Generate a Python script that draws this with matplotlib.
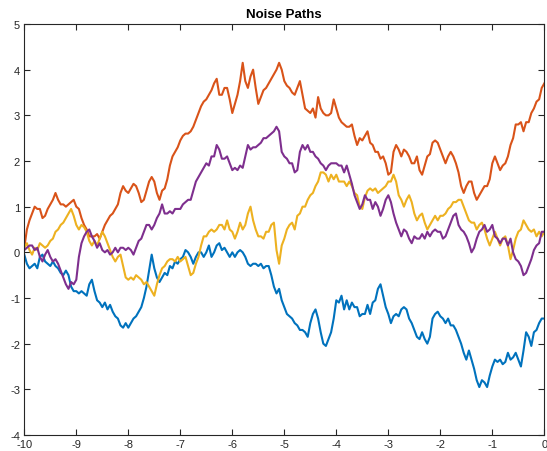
import numpy as np
import matplotlib
matplotlib.use("Agg")
import matplotlib.pyplot as plt

plt.rcParams['font.family'] = ['Liberation Sans', 'DejaVu Sans']
plt.rcParams['axes.unicode_minus'] = False

# sample times, 0.05 apart
t = np.linspace(-10, 0, 201)

path_blue = [
    -0.05, -0.25, -0.35, -0.3, -0.25, -0.35, -0.1, -0.05, -0.2, -0.25, -0.3, -0.2, -0.3, -0.35, -0.45, -0.5, -0.4, -0.5, -0.75, -0.85,
    -0.85, -0.9, -0.85, -0.9, -0.95, -0.7, -0.6, -0.85, -1.05, -1.1, -1.2, -1.1, -1.25, -1.15, -1.3, -1.4, -1.45, -1.6, -1.65, -1.55,
    -1.65, -1.55, -1.45, -1.4, -1.3, -1.2, -1.0, -0.75, -0.4, -0.05, -0.35, -0.55, -0.65, -0.55, -0.45, -0.5, -0.3, -0.35, -0.2, -0.25,
    -0.15, -0.1, 0.05, 0.0, -0.1, -0.25, -0.1, 0.0, 0.0, -0.1, 0.0, 0.15, -0.1, 0.0, 0.15, 0.2, 0.05, 0.1, 0.0, -0.1,
    0.0, -0.1, 0.0, 0.05, 0.0, -0.1, -0.25, -0.3, -0.25, -0.25, -0.3, -0.25, -0.35, -0.3, -0.3, -0.5, -0.75, -0.9, -0.8, -1.05,
    -1.2, -1.35, -1.4, -1.45, -1.55, -1.6, -1.7, -1.7, -1.75, -1.85, -1.55, -1.35, -1.25, -1.45, -1.75, -2.0, -2.05, -1.9, -1.75, -1.45,
    -1.05, -1.1, -0.95, -1.25, -1.05, -1.25, -1.1, -1.2, -1.2, -1.4, -1.35, -1.35, -1.15, -1.35, -1.1, -1.05, -0.8, -0.7, -0.95, -1.2,
    -1.35, -1.55, -1.4, -1.35, -1.4, -1.25, -1.2, -1.25, -1.45, -1.55, -1.7, -1.85, -1.9, -1.75, -1.9, -2.0, -1.85, -1.45, -1.35, -1.3,
    -1.4, -1.45, -1.55, -1.45, -1.6, -1.6, -1.7, -1.85, -2.0, -2.2, -2.35, -2.15, -2.35, -2.55, -2.8, -2.95, -2.8, -2.85, -2.95, -2.7,
    -2.5, -2.35, -2.4, -2.35, -2.45, -2.4, -2.2, -2.35, -2.3, -2.2, -2.35, -2.5, -2.15, -1.75, -1.85, -2.05, -1.75, -1.7, -1.55, -1.45,
    -1.45,
]

path_orange = [
    0.1, 0.5, 0.7, 0.85, 1.0, 0.95, 0.95, 0.75, 0.8, 0.95, 1.05, 1.15, 1.3, 1.15, 1.05, 1.05, 1.0, 1.05, 1.1, 1.15,
    1.0, 0.95, 0.75, 0.6, 0.5, 0.35, 0.35, 0.35, 0.4, 0.3, 0.45, 0.6, 0.7, 0.8, 0.85, 0.95, 1.05, 1.3, 1.45, 1.35,
    1.3, 1.4, 1.5, 1.45, 1.3, 1.1, 1.15, 1.35, 1.55, 1.65, 1.55, 1.3, 1.15, 1.35, 1.4, 1.6, 1.9, 2.1, 2.2, 2.3,
    2.45, 2.55, 2.6, 2.6, 2.65, 2.75, 2.9, 3.05, 3.2, 3.3, 3.35, 3.45, 3.55, 3.7, 3.8, 3.45, 3.45, 3.6, 3.6, 3.35,
    3.05, 3.25, 3.45, 3.75, 4.15, 3.75, 3.6, 3.85, 4.0, 3.6, 3.25, 3.4, 3.55, 3.6, 3.7, 3.8, 3.9, 4.0, 4.15, 4.0,
    3.75, 3.65, 3.6, 3.5, 3.45, 3.6, 3.75, 3.45, 3.15, 3.1, 3.05, 3.15, 2.95, 3.4, 3.15, 3.05, 3.0, 3.0, 3.05, 3.35,
    3.15, 2.95, 2.85, 2.8, 2.75, 2.75, 2.8, 2.55, 2.35, 2.5, 2.45, 2.55, 2.65, 2.4, 2.35, 2.2, 2.2, 2.05, 2.1, 1.95,
    1.7, 1.75, 2.2, 2.35, 2.25, 2.1, 2.25, 2.2, 2.1, 1.95, 1.95, 2.1, 1.8, 1.7, 1.9, 2.1, 2.15, 2.4, 2.45, 2.4,
    2.25, 2.1, 1.95, 2.1, 2.2, 2.1, 1.95, 1.75, 1.45, 1.3, 1.45, 1.55, 1.55, 1.3, 1.15, 1.25, 1.35, 1.45, 1.45, 1.6,
    1.95, 2.1, 1.95, 1.8, 1.9, 1.95, 2.1, 2.35, 2.5, 2.8, 2.8, 2.85, 2.65, 2.85, 2.85, 3.05, 3.15, 3.3, 3.35, 3.6,
    3.7,
]

path_yellow = [
    0.1, 0.2, 0.05, -0.05, 0.1, 0.05, 0.2, 0.15, 0.1, 0.15, 0.25, 0.3, 0.45, 0.5, 0.6, 0.65, 0.75, 0.85, 0.95, 0.8,
    0.6, 0.5, 0.6, 0.55, 0.45, 0.25, 0.15, 0.25, 0.15, 0.3, 0.45, 0.35, 0.2, 0.05, -0.1, -0.2, -0.1, -0.05, -0.3, -0.55,
    -0.6, -0.55, -0.6, -0.5, -0.55, -0.6, -0.7, -0.65, -0.75, -0.85, -0.95, -0.7, -0.5, -0.35, -0.3, -0.2, -0.15, -0.15, -0.2, -0.1,
    -0.2, -0.15, -0.1, -0.3, -0.5, -0.45, -0.25, -0.1, 0.15, 0.35, 0.35, 0.45, 0.5, 0.45, 0.5, 0.6, 0.6, 0.5, 0.7, 0.5,
    0.45, 0.3, 0.45, 0.65, 0.5, 0.6, 0.85, 1.0, 0.7, 0.5, 0.35, 0.35, 0.3, 0.45, 0.45, 0.6, 0.65, 0.05, -0.25, 0.15,
    0.3, 0.5, 0.6, 0.65, 0.5, 0.8, 0.85, 1.0, 1.0, 1.15, 1.25, 1.3, 1.45, 1.55, 1.75, 1.75, 1.7, 1.55, 1.7, 1.6,
    1.7, 1.55, 1.55, 1.55, 1.45, 1.55, 1.45, 1.3, 1.25, 1.0, 0.95, 1.2, 1.35, 1.4, 1.35, 1.4, 1.3, 1.35, 1.4, 1.45,
    1.55, 1.55, 1.7, 1.55, 1.25, 1.15, 1.0, 1.15, 1.25, 1.1, 0.85, 0.7, 0.8, 0.85, 0.65, 0.5, 0.6, 0.7, 0.8, 0.7,
    0.8, 0.8, 0.85, 0.95, 1.0, 1.1, 1.1, 1.15, 1.15, 1.0, 0.85, 0.7, 0.65, 0.65, 0.5, 0.6, 0.65, 0.5, 0.3, 0.15,
    0.3, 0.45, 0.3, 0.15, 0.3, 0.35, 0.15, -0.15, 0.05, 0.3, 0.45, 0.5, 0.7, 0.6, 0.5, 0.45, 0.5, 0.35, 0.45, 0.35,
    0.45,
]

path_purple = [
    0.05, 0.1, 0.15, 0.15, 0.05, 0.1, -0.1, -0.2, -0.05, 0.05, -0.1, -0.2, -0.15, -0.25, -0.4, -0.55, -0.7, -0.8, -0.65, -0.7,
    -0.6, -0.1, 0.2, 0.35, 0.45, 0.5, 0.35, 0.25, 0.1, 0.2, 0.05, 0.0, 0.05, -0.05, 0.0, 0.1, 0.0, 0.1, 0.1, 0.05,
    0.1, 0.05, -0.05, 0.1, 0.25, 0.3, 0.45, 0.6, 0.6, 0.5, 0.6, 0.75, 0.85, 1.05, 0.85, 0.85, 0.9, 0.85, 0.95, 0.95,
    0.95, 1.05, 1.1, 1.15, 1.15, 1.35, 1.55, 1.65, 1.75, 1.85, 1.95, 1.9, 2.1, 2.1, 2.35, 2.25, 2.05, 2.05, 2.1, 1.95,
    1.8, 1.85, 1.8, 1.9, 1.85, 2.1, 2.35, 2.25, 2.3, 2.3, 2.35, 2.4, 2.5, 2.5, 2.55, 2.6, 2.65, 2.75, 2.65, 2.2,
    2.1, 2.05, 1.95, 1.95, 1.75, 1.8, 2.2, 2.35, 2.25, 2.35, 2.2, 2.2, 2.1, 2.05, 1.95, 1.9, 1.8, 1.9, 1.95, 1.95,
    1.95, 1.9, 1.9, 1.75, 1.9, 1.7, 1.5, 1.25, 1.1, 0.95, 1.05, 1.25, 1.15, 1.15, 0.95, 1.1, 1.0, 0.8, 0.95, 1.15,
    1.25, 1.1, 0.85, 0.65, 0.5, 0.35, 0.5, 0.45, 0.3, 0.2, 0.35, 0.3, 0.3, 0.4, 0.3, 0.45, 0.35, 0.45, 0.5, 0.45,
    0.45, 0.3, 0.35, 0.5, 0.65, 0.8, 0.85, 0.6, 0.5, 0.45, 0.35, 0.2, 0.0, 0.1, 0.3, 0.45, 0.5, 0.6, 0.45, 0.5,
    0.6, 0.35, 0.3, 0.2, 0.3, 0.3, 0.15, 0.3, 0.0, -0.15, -0.2, -0.3, -0.5, -0.45, -0.3, -0.15, 0.05, 0.15, 0.2, 0.45,
    0.45,
]

paths = [path_blue, path_orange, path_yellow, path_purple]
colors = ['#0072BD', '#D95319', '#EDB120', '#7E2F8E']

fig = plt.figure(figsize=(5.47, 4.52), dpi=100)
ax = fig.add_axes([0.0444, 0.0354, 0.9507, 0.9093])

for y, c in zip(paths, colors):
    ax.plot(t, y, color=c, linewidth=1.5)

ax.set_xlim(-10, 0)
ax.set_ylim(-4, 5)
ax.set_xticks(np.arange(-10, 1, 1))
ax.set_yticks(np.arange(-4, 6, 1))
ax.set_title('Noise Paths', fontsize=9.5, fontweight='bold', pad=5)

grey = '#262626'
for s in ax.spines.values():
    s.set_color(grey)
    s.set_linewidth(0.8)
ax.tick_params(direction='in', top=True, right=True, length=4, width=0.8,
               colors=grey, labelsize=8, pad=3)

fig.savefig('out.png', dpi=100)
